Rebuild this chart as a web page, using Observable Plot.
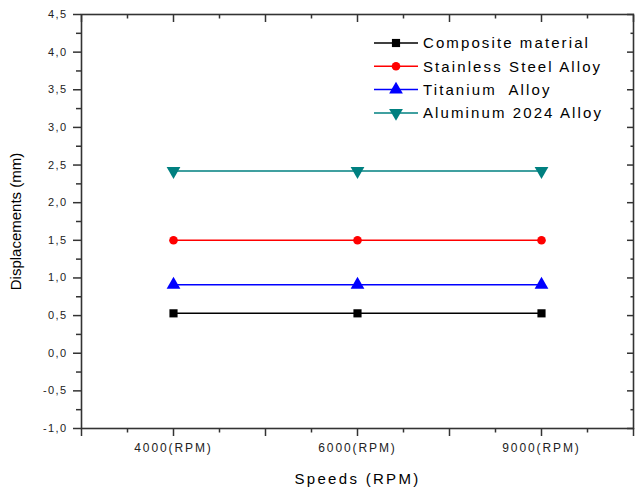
<!DOCTYPE html>
<html>
<head>
<meta charset="utf-8">
<script src="https://cdn.jsdelivr.net/npm/d3@7"></script>
<script src="https://cdn.jsdelivr.net/npm/@observablehq/plot@0.6"></script>
<style>
  body { margin: 0; background: #fff; }
  #wrap { position: relative; width: 635px; height: 492px; overflow: hidden; background: #fff; }
  #wrap svg { display: block; }
  #wrap [aria-label="y-axis tick label"] text { font-size: 11px; letter-spacing: 1.4px; }
  #wrap [aria-label="x-axis tick label"] text { font-size: 12px; letter-spacing: 1.9px; }
  #wrap [aria-label="x-axis label"] text { font-size: 15px; letter-spacing: 2.3px; fill: #000; }
  #wrap [aria-label="y-axis label"] text { font-size: 15px; fill: #000; }
  #legend { position: absolute; left: 0; top: 0; pointer-events: none; }
  #legend text { font-family: "Liberation Sans", Arial, sans-serif; font-size: 15px; letter-spacing: 2.1px; fill: #000; white-space: pre; }
</style>
</head>
<body>
<div id="wrap"></div>
<script>
// ---- data ----
const speeds = ["4000(RPM)", "6000(RPM)", "9000(RPM)"];
const speedPos = [1, 2, 3];
const seriesNames = ["Composite material", "Stainless Steel Alloy", "Titanium  Alloy", "Aluminum 2024 Alloy"];
const composite = [0.53, 0.53, 0.53];
const stainless = [1.50, 1.50, 1.50];
const titanium = [0.91, 0.91, 0.91];
const aluminum = [2.42, 2.42, 2.42];
const yTickValues = [-1.0, -0.5, 0.0, 0.5, 1.0, 1.5, 2.0, 2.5, 3.0, 3.5, 4.0, 4.5];
const yTickLabels = ["-1,0", "-0,5", "0,0", "0,5", "1,0", "1,5", "2,0", "2,5", "3,0", "3,5", "4,0", "4,5"];
const xTitle = "Speeds (RPM)";
const yTitle = "Displacements (mm)";

// ---- styles ----
const colors = ["#000000", "#ff0000", "#0000ff", "#008080"];
const symbols = ["square", "circle", "triangle", "triangle"];
const radii = [4.6, 4.3, 5.1, 5.1];
const rotations = [0, 0, 0, 180];

const seriesValues = [composite, stainless, titanium, aluminum];
const rows = seriesNames.flatMap((name, s) =>
  speedPos.map((p, i) => ({series: name, s, x: p, y: seriesValues[s][i]})));

const xMajor = d3.range(0.5, 3.51, 0.5);
const xMinor = d3.range(0.75, 3.5, 0.5);
const yMinor = d3.range(-0.75, 4.5, 0.5);
const axisStroke = "#333";
const blank = () => "";

const marks = [];
seriesNames.forEach((name, s) => {
  const d = rows.filter(r => r.s === s);
  marks.push(Plot.line(d, {x: "x", y: "y", stroke: colors[s], strokeWidth: 1.5}));
});
seriesNames.forEach((name, s) => {
  const d = rows.filter(r => r.s === s);
  marks.push(Plot.dot(d, {x: "x", y: "y", fill: colors[s], stroke: "none", symbol: symbols[s], r: radii[s], rotate: rotations[s]}));
});

const chart = Plot.plot({
  width: 635,
  height: 492,
  marginLeft: 81,
  marginRight: 2,
  marginTop: 14,
  marginBottom: 64,
  style: {fontFamily: "'Liberation Sans', Arial, sans-serif", fontSize: "11px", color: "#222", background: "#fff"},
  x: {type: "linear", domain: [0.5, 3.5]},
  y: {type: "linear", domain: [-1, 4.5]},
  marks: [
    ...marks,
    Plot.frame({stroke: axisStroke, strokeWidth: 1.6}),
    // bottom axis
    Plot.axisX(xMajor, {anchor: "bottom", tickSize: 8, tickFormat: blank, label: null, stroke: axisStroke, strokeWidth: 1.5}),
    Plot.axisX(xMinor, {anchor: "bottom", tickSize: 4.5, tickFormat: blank, label: null, stroke: axisStroke, strokeWidth: 1.5}),
    Plot.axisX(speedPos, {anchor: "bottom", tickSize: 0, tickPadding: 15, tickFormat: d => speeds[speedPos.indexOf(d)],
      label: xTitle, labelAnchor: "center", labelOffset: 55, labelArrow: "none"}),
    // top axis (inward)
    Plot.axisX(xMajor, {anchor: "top", tickSize: -7, tickFormat: blank, label: null, stroke: axisStroke, strokeWidth: 1.5}),
    Plot.axisX(xMinor, {anchor: "top", tickSize: -3.5, tickFormat: blank, label: null, stroke: axisStroke, strokeWidth: 1.5}),
    // left axis
    Plot.axisY(yTickValues, {anchor: "left", tickSize: 8, tickPadding: 6, tickFormat: d => yTickLabels[yTickValues.indexOf(d)],
      label: yTitle, labelAnchor: "center", labelOffset: 71, labelArrow: "none", stroke: axisStroke, strokeWidth: 1.5}),
    Plot.axisY(yMinor, {anchor: "left", tickSize: 5, tickFormat: blank, label: null, stroke: axisStroke, strokeWidth: 1.5}),
    // right axis (inward)
    Plot.axisY(yTickValues, {anchor: "right", tickSize: -7, tickFormat: blank, label: null, stroke: axisStroke, strokeWidth: 1.5}),
    Plot.axisY(yMinor, {anchor: "right", tickSize: -3.5, tickFormat: blank, label: null, stroke: axisStroke, strokeWidth: 1.5})
  ]
});
const wrap = document.getElementById("wrap");
wrap.appendChild(chart);

// ---- legend overlay ----
const lg = d3.select(wrap).append("svg").attr("id", "legend").attr("width", 635).attr("height", 492);
const rowY0 = 43, rowH = 23.3;
seriesNames.forEach((name, s) => {
  const y = rowY0 + s * rowH;
  const g = lg.append("g").attr("transform", `translate(0,${y})`);
  g.append("line").attr("x1", 374).attr("x2", 418).attr("y1", 0).attr("y2", 0)
    .attr("stroke", colors[s]).attr("stroke-width", 1.5);
  const sym = {square: d3.symbolSquare, circle: d3.symbolCircle, triangle: d3.symbolTriangle}[symbols[s]];
  g.append("path").attr("d", d3.symbol(sym, Math.PI * radii[s] * radii[s])())
    .attr("transform", `translate(396,0) rotate(${rotations[s]})`)
    .attr("fill", colors[s]);
  g.append("text").attr("x", 423).attr("y", 0).attr("dy", "0.36em").text(name);
});
</script>
</body>
</html>
